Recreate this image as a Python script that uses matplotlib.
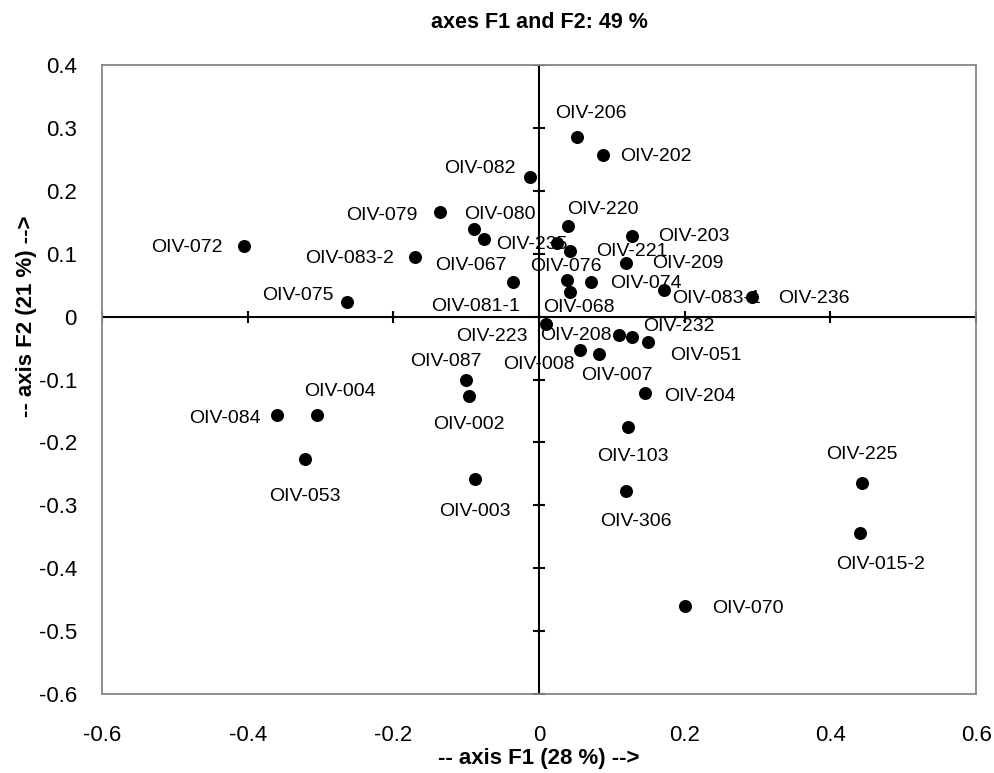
import matplotlib
matplotlib.use('Agg')
import matplotlib.pyplot as plt

plt.rcParams['font.family'] = ['Liberation Sans', 'DejaVu Sans']

# observations (F1, F2 coordinates)
names = ['OIV-072', 'OIV-075', 'OIV-083-2', 'OIV-079', 'OIV-080', 'OIV-067',
         'OIV-082', 'OIV-206', 'OIV-202', 'OIV-220', 'OIV-203', 'OIV-235',
         'OIV-221', 'OIV-209', 'OIV-081-1', 'OIV-076', 'OIV-074', 'OIV-068',
         'OIV-083-1', 'OIV-236', 'OIV-223', 'OIV-208', 'OIV-232', 'OIV-051',
         'OIV-008', 'OIV-007', 'OIV-087', 'OIV-002', 'OIV-204', 'OIV-103',
         'OIV-003', 'OIV-306', 'OIV-225', 'OIV-015-2', 'OIV-070', 'OIV-084',
         'OIV-004', 'OIV-053']
f1 = [-0.405, -0.264, -0.170, -0.136, -0.089, -0.076,
      -0.012, 0.052, 0.088, 0.040, 0.128, 0.024,
      0.043, 0.119, -0.036, 0.038, 0.071, 0.043,
      0.171, 0.292, 0.009, 0.110, 0.127, 0.149,
      0.056, 0.082, -0.100, -0.096, 0.146, 0.122,
      -0.088, 0.120, 0.443, 0.441, 0.201, -0.360,
      -0.305, -0.321]
f2 = [0.112, 0.024, 0.095, 0.167, 0.139, 0.123,
      0.223, 0.286, 0.257, 0.144, 0.129, 0.118,
      0.105, 0.086, 0.055, 0.058, 0.055, 0.039,
      0.043, 0.031, -0.011, -0.029, -0.033, -0.040,
      -0.053, -0.059, -0.100, -0.127, -0.122, -0.176,
      -0.259, -0.277, -0.264, -0.344, -0.460, -0.157,
      -0.157, -0.227]

xticks = [-0.6, -0.4, -0.2, 0, 0.2, 0.4, 0.6]
yticks = [0.4, 0.3, 0.2, 0.1, 0, -0.1, -0.2, -0.3, -0.4, -0.5, -0.6]

# label placement (points, relative to the marker)
label_offsets = [(-41, -0.5), (-35.3, 4.1), (-47.5, -0.7), (-42.1, -2.4), (18.5, 10.8), (-8.9, -18.5),
                 (-36.4, 6), (10, 17.3), (38.2, -0.7), (25.2, 12.2), (44.6, -0.7), (-18, -1.4),
                 (44.6, -0.7), (44.6, -0.7), (-26.6, -17.8), (-0.5, 9.6), (39.6, -0.7), (5.8, -10.8),
                 (38.2, -6.5), (44.6, -0.7), (-38.9, -9.1), (-31, -0.7), (33.8, 7.9), (41.8, -10.1),
                 (-29.5, -10.8), (13, -15.8), (-14.4, 13), (0, -20.2), (39.6, -2.2), (3.6, -20.9),
                 (0, -23), (6.5, -22.3), (0, 20.2), (14.4, -23), (44.6, -2.2), (-37.4, -2.2),
                 (16.6, 17.3), (0, -26.6)]

fig, ax = plt.subplots(figsize=(9.95, 7.73), dpi=100)
fig.subplots_adjust(left=0.1025, right=0.981, top=0.9153, bottom=0.1028)

ax.set_xlim(-0.6, 0.6)
ax.set_ylim(-0.6, 0.4)

# axes through the origin with crossing tick marks
ax.axhline(0, color='black', lw=1.5, zorder=2)
ax.axvline(0, color='black', lw=1.5, zorder=2)
ax.plot(xticks, [0] * len(xticks), ls='none', marker='|', ms=9, mew=1.5, color='black', zorder=2)
ax.plot([0] * len(yticks), yticks, ls='none', marker='_', ms=9, mew=1.5, color='black', zorder=2)

ax.scatter(f1, f2, s=88, color='black', linewidths=0, zorder=3)
for name, x, y, off in zip(names, f1, f2, label_offsets):
    ax.annotate(name, (x, y), xytext=off, textcoords='offset points',
                ha='center', va='center', fontsize=14, zorder=4)

ax.set_xticks(xticks)
ax.set_xticklabels(['0' if v == 0 else f'{v:g}' for v in xticks])
ax.set_yticks(yticks)
ax.set_yticklabels(['0' if v == 0 else f'{v:g}' for v in yticks])
ax.tick_params(axis='x', length=0, pad=23, labelsize=16)
ax.tick_params(axis='y', length=0, pad=18, labelsize=16)

for s in ax.spines.values():
    s.set_color('#868686')
    s.set_linewidth(1.3)

fig.text(0.5417, 1 - 22.7 / 773, 'axes F1 and F2: 49 %', ha='center', va='center',
         fontsize=15.5, fontweight='bold')
ax.set_xlabel('-- axis F1 (28 %) -->', fontsize=16, fontweight='bold')
ax.set_ylabel('-- axis F2 (21 %) -->', fontsize=16, fontweight='bold')
ax.xaxis.set_label_coords(0.5, -0.087)
ax.yaxis.set_label_coords(-0.074, 0.6)

fig.savefig('out.png', dpi=100)
